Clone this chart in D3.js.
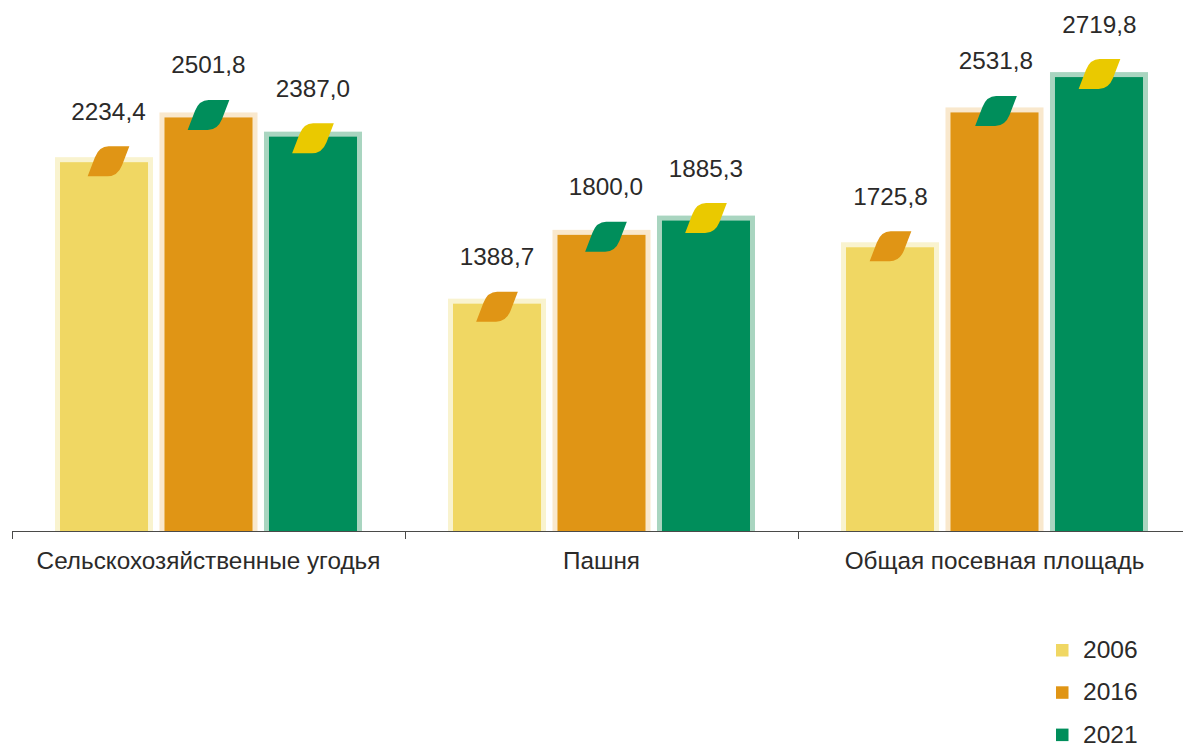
<!DOCTYPE html>
<html>
<head>
<meta charset="utf-8">
<script src="https://cdn.jsdelivr.net/npm/d3@7"></script>
<style>
    body { margin: 0; background: #fff; }
    text { font-family: "Liberation Sans", sans-serif; font-size: 24.3px; fill: #2b2a29; }
</style>
</head>
<body>
<div id="chart"></div>
<script>
const categories = ["Сельскохозяйственные угодья", "Пашня", "Общая посевная площадь"];
const years = ["2006", "2016", "2021"];

const values2006 = [2234.4, 1388.7, 1725.8];
const values2016 = [2501.8, 1800.0, 2531.8];
const values2021 = [2387.0, 1885.3, 2719.8];

// the last 2021 bar is drawn taller in the picture than its printed value gives
const heights2021 = [2387.0, 1885.3, 2743];

let width = 1183, height = 746;
let baseline = 531;

let colors = {"2006": "#f0d763", "2016": "#e09515", "2021": "#008e5b"};
let halos = {"2006": "#f9f3cf", "2016": "#f9e8cd", "2021": "#a9d5c0"};
// leaf colour sits on top of each bar
let leafColors = {"2006": "#e09515", "2016": "#008e5b", "2021": "#eac900"};
// leaf and label were placed by hand in the original, so they wander a little
let shiftsX = [[4.5, 0, 0], [0, 4.5, 0], [0.5, 1.5, 0.5]];
let shiftsY = [[0, -1.5, 2.5], [4, 3, -1.5], [0, -0.5, -2]];

let rows = [];
categories.forEach(function (c, i) {
    rows.push({cat: c, i: i, j: 0, year: "2006", value: values2006[i], h: values2006[i]});
    rows.push({cat: c, i: i, j: 1, year: "2016", value: values2016[i], h: values2016[i]});
    rows.push({cat: c, i: i, j: 2, year: "2021", value: values2021[i], h: heights2021[i]});
});

let svg = d3.select("#chart").append("svg")
    .attr("width", width)
    .attr("height", height)
    .style("display", "block");

let x0 = d3.scaleBand().domain(categories).range([12, 1191]);
let x1 = d3.scaleBand().domain(years).range([43, 350]).paddingInner(0.062);
let y = d3.scaleLinear().domain([0, 3000]).range([baseline, baseline - 3000 * 0.1673]);

let fmt = function (v) { return v.toFixed(1).replace(".", ","); };
let inset = 5;

let bars = svg.append("g").selectAll("g")
    .data(rows)
    .enter().append("g")
    .attr("transform", function (d) { return "translate(" + (x0(d.cat) + x1(d.year)) + ",0)"; });

// pale outer rectangle
bars.append("rect")
    .attr("y", function (d) { return y(d.h); })
    .attr("width", x1.bandwidth())
    .attr("height", function (d) { return baseline - y(d.h); })
    .attr("fill", function (d) { return halos[d.year]; });

bars.append("rect")
    .attr("x", inset)
    .attr("y", function (d) { return y(d.h) + inset; })
    .attr("width", x1.bandwidth() - 2 * inset)
    .attr("height", function (d) { return baseline - y(d.h) - inset; })
    .attr("fill", function (d) { return colors[d.year]; });

// leaf marker, origin is its lower left corner
bars.append("path")
    .attr("d", "M0,0 L7.3,-19 Q11.5,-30 21,-30 L41.7,-30 L34.4,-11 Q30,0 20,0 Z")
    .attr("transform", function (d) {
        let dx = x1.bandwidth() / 2 + shiftsX[d.i][d.j] - 20.85;
        return "translate(" + dx + "," + (y(d.h) + 19 + shiftsY[d.i][d.j]) + ")";
    })
    .attr("fill", function (d) { return leafColors[d.year]; });

bars.append("text")
    .attr("x", function (d) { return x1.bandwidth() / 2 + shiftsX[d.i][d.j]; })
    .attr("y", function (d) { return y(d.h) - 37.5 + shiftsY[d.i][d.j]; })
    .attr("text-anchor", "middle")
    .text(function (d) { return fmt(d.value); });

// axis line with ticks on the group borders
let xEdges = d3.scaleLinear().domain([0, categories.length]).range([12, 1191]);
let edgeAxis = svg.append("g")
    .attr("transform", "translate(0," + baseline + ")")
    .call(d3.axisBottom(xEdges).tickValues([0, 1, 2, 3]).tickFormat("").tickSize(8).tickSizeOuter(0));
edgeAxis.selectAll("path, line").attr("stroke", "#4a4a49").attr("stroke-width", 1);

let catAxis = svg.append("g")
    .attr("transform", "translate(0," + baseline + ")")
    .call(d3.axisBottom(x0).tickSize(0).tickPadding(21));
catAxis.select(".domain").remove();
catAxis.selectAll("text").style("font-size", "24.3px").style("font-family", "'Liberation Sans', sans-serif");

// legend
let legend = svg.append("g").selectAll("g")
    .data(years)
    .enter().append("g")
    .attr("transform", function (d, i) { return "translate(1056," + (644 + i * 42.3) + ")"; });

legend.append("rect")
    .attr("width", 12.5)
    .attr("height", 12.5)
    .attr("fill", function (d) { return colors[d]; });

legend.append("text")
    .attr("x", 27)
    .attr("y", 14)
    .style("font-size", "24.6px")
    .text(function (d) { return d; });
</script>
</body>
</html>
